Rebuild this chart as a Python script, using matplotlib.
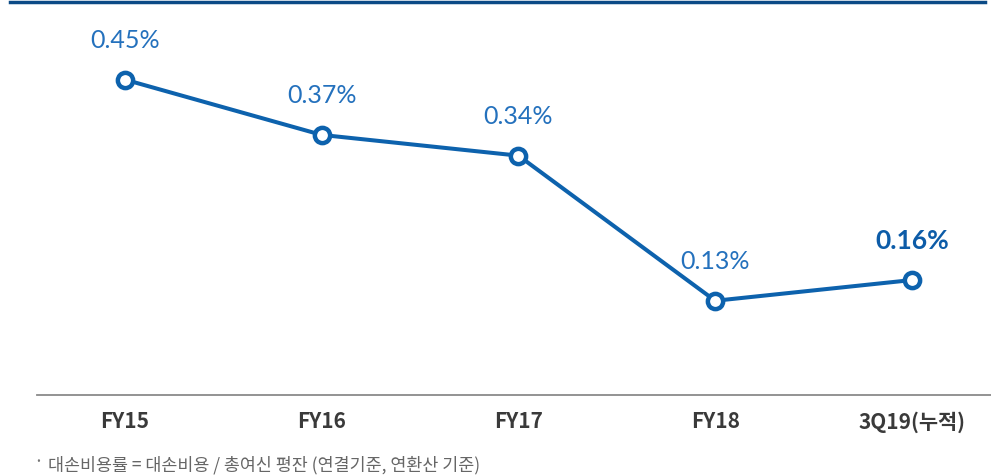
import matplotlib.pyplot as plt
from matplotlib.lines import Line2D

# data
categories = ["FY15", "FY16", "FY17", "FY18", "3Q19(누적)"]
ratio = [0.45, 0.37, 0.34, 0.13, 0.16]
labels = ["0.45%", "0.37%", "0.34%", "0.13%", "0.16%"]
bold_last = [False, False, False, False, True]
footnote = "대손비용률 = 대손비용 / 총여신 평잔 (연결기준, 연환산 기준)"

BLUE = "#0d62ad"
LBL = "#2471bd"

fig = plt.figure(figsize=(9.91, 4.77), dpi=100)
ax = fig.add_axes([0, 0, 1, 1])
ax.set_axis_off()

x = list(range(len(categories)))
ax.plot(x, ratio, color=BLUE, lw=2.9, marker="o", ms=11, mew=3.2,
        mfc="white", mec=BLUE, zorder=3, solid_capstyle="round")

for xi, v, t, b in zip(x, ratio, labels, bold_last):
    ax.annotate(t, (xi, v), xytext=(0, 29), textcoords="offset points",
                ha="center", va="center", fontsize=19 if b else 18,
                color="#0d5ca8" if b else LBL,
                fontweight="bold" if b else "normal",
                family=["Lato", "DejaVu Sans"])

ax.set_xlim(-0.635, 4.4015)
ax.set_ylim(-0.1236, 0.5667)

# category labels under the baseline
for xi, c in zip(x, categories):
    fig.text((125 + 196.75 * xi) / 991, 1 - 422 / 477, c, ha="center", va="center",
             fontsize=15, fontweight="bold", color="#3a3a3a",
             family=["Noto Sans CJK KR", "DejaVu Sans"])

# top rule and baseline
fig.add_artist(Line2D([10 / 991, 985 / 991], [1 - 2.5 / 477] * 2, color="#0b4a86", lw=2.5))
fig.add_artist(Line2D([37 / 991, 1.0], [1 - 396 / 477] * 2, color="#8a8a8a", lw=1.3))

fig.text(33 / 991, 1 - 462 / 477, "·", ha="left", va="center", fontsize=13, color="#777777",
         family=["Noto Sans CJK KR", "DejaVu Sans"])
fig.text(48 / 991, 1 - 465 / 477, footnote, ha="left", va="center", fontsize=12.5,
         color="#666666", family=["Noto Sans CJK KR", "DejaVu Sans"])

fig.savefig("out.png", dpi=100)
